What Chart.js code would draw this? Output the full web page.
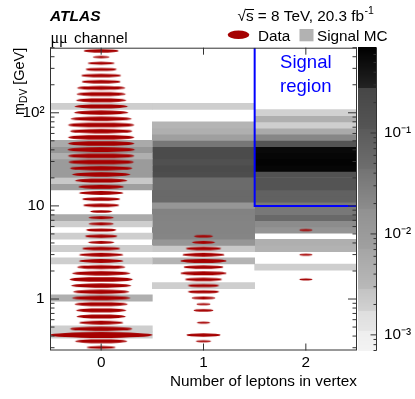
<!DOCTYPE html>
<html>
<head>
<meta charset="utf-8">
<script src="https://cdn.jsdelivr.net/npm/chart.js@4/dist/chart.umd.min.js"></script>
<style>
    html, body { margin: 0; padding: 0; background: #fff; }
</style>
</head>
<body>
<canvas id="graph" width="415" height="399"></canvas>
<script>
// number of leptons in vertex
var leptonBins   = [0, 1, 2];
var leptonLabels = ["0", "1", "2"];

// m_DV bin edges [GeV], low -> high
var massEdges = [0.2800, 0.3263, 0.3801, 0.4430, 0.5161, 0.6013, 0.7005, 0.8162, 0.9508, 1.108,
                 1.291, 1.504, 1.752, 2.041, 2.378, 2.770, 3.228, 3.761, 4.381, 5.104,
                 5.947, 6.929, 8.072, 9.405, 10.96, 12.77, 14.87, 17.33, 20.19, 23.52,
                 27.40, 31.93, 37.20, 43.34, 50.49, 58.82, 68.53, 79.84, 93.02, 108.4,
                 126.3, 147.1, 171.4, 199.7, 232.6, 271.0, 315.8, 367.9, 428.6, 500.0];

// data yield per m_DV bin (relative, sets the ellipse size)
var data0 = [29, 52, 102, 62, 44, 49, 50, 53, 58, 56, 60, 63, 58, 48, 44, 44, 38, 26, 32, 30,
             25, 25, 22, 36, 38, 44, 45, 52, 58, 62, 65, 66, 67, 66, 66, 62, 66, 61, 54, 53,
             50, 49, 48, 39, 40, 31, 27, 17, 35];
var data1 = [0, 15, 34, 0, 13, 0, 20, 14, 24, 31, 31, 37, 46, 40, 46, 42, 35, 23, 19, 0,
             0, 0, 0, 0, 0, 0, 0, 0, 0, 0, 0, 0, 0, 0, 0, 0, 0, 0, 0, 0,
             0, 0, 0, 0, 0, 0, 0, 0, 0];
var data2 = [0, 0, 0, 0, 0, 0, 0, 0, 0, 0, 0, 13, 0, 0, 0, 13, 0, 0, 0, 13,
             0, 0, 0, 0, 0, 0, 0, 0, 0, 0, 0, 0, 0, 0, 0, 0, 0, 0, 0, 0,
             0, 0, 0, 0, 0, 0, 0, 0, 0];

// signal MC fraction per m_DV bin
var mc0 = [0, 0, 0.002, 0.002, 0, 0, 0, 0, 0.0045, 0, 0, 0, 0, 0, 0.002, 0, 0.002, 0, 0.002, 0,
           0.002, 0.0057, 0, 0, 0, 0, 0.0075, 0.0024, 0.0095, 0.0095, 0.0096, 0.0045, 0.013, 0.0057, 0, 0, 0, 0, 0, 0.002,
           0, 0, 0, 0, 0, 0, 0, 0, 0];
var mc1 = [0, 0, 0, 0, 0, 0, 0, 0, 0, 0, 0.002, 0, 0, 0, 0.0036, 0, 0.0024, 0.013, 0.023, 0.024,
           0.024, 0.025, 0.0255, 0.013, 0.055, 0.055, 0.05, 0.05, 0.18, 0.2, 0.15, 0.2, 0.2, 0.04, 0.0075, 0.0045, 0.0036, 0, 0, 0.002,
           0, 0, 0, 0, 0, 0, 0, 0, 0];
var mc2 = [0, 0, 0, 0, 0, 0, 0, 0, 0, 0, 0, 0, 0, 0.002, 0, 0, 0.004, 0.0045, 0, 0.015,
           0.018, 0.055, 0.037, 0.037, 0.08, 0.08, 0.115, 0.115, 0.13, 0.6, 0.65, 0.6, 0.55, 0.115, 0.021, 0.0057, 0.002, 0.0045, 0.0018, 0,
           0, 0, 0, 0, 0, 0, 0, 0, 0];

var massTickValues = [1, 10, 100];
var massTickLabels = ["1", "10", "10\u00b2"];
var zTickValues    = [0.001, 0.01, 0.1];
var zTickLabels    = ["10\u207b\u00b3", "10\u207b\u00b2", "10\u207b\u00b9"];

var signalCut = 10;     // signal region: 2 leptons, m_DV > 10 GeV

// grey palette of the colour axis (value bands, grey at low / high end)
var zBandEdges = [0.0007, 0.00109, 0.00172, 0.00285, 0.0071, 0.0177, 0.0442, 0.110, 0.279, 0.7];
var zBandLight = [243, 230, 210, 185, 160, 140, 110, 85, 35];
var zBandDark  = [238, 222, 195, 165, 145, 115, 90, 70, 0];

var FONT       = "'Liberation Sans', Arial, Helvetica, sans-serif";
var SERIF      = "'Liberation Serif', 'DejaVu Serif', serif";
var DATA_COLOR = "#a50000";
var MC_COLOR   = "rgb(178,178,178)";
var FRAME      = "#333";
var DATA_MAX   = Math.max.apply(null, data0.concat(data1, data2));

var CHART = null;

function grayFor(v){
    let k = zBandEdges.length - 2;
    for (let j = 0; j < zBandEdges.length - 1; j++){
        if (v < zBandEdges[j + 1]) { k = j; break; }
    }
    let lo = Math.log10(zBandEdges[k]), hi = Math.log10(zBandEdges[k + 1]);
    let f  = (Math.log10(v) - lo) / (hi - lo);
    f = Math.max(0, Math.min(1, f));
    let g = Math.round(zBandLight[k] + (zBandDark[k] - zBandLight[k]) * f);
    return "rgb(" + g + "," + g + "," + g + ")";
}

function mcPoints(x, vals){
    let pts = [];
    for (let i = 0; i < vals.length; i++){
        if (vals[i] > 0) pts.push({x: x, y: [massEdges[i], massEdges[i + 1]], v: vals[i]});
    }
    return pts;
}

function dataPoints(x, vals){
    let pts = [];
    for (let i = 0; i < vals.length; i++){
        if (vals[i] > 0) pts.push({x: x, y: Math.sqrt(massEdges[i] * massEdges[i + 1]), v: vals[i], bin: i});
    }
    return pts;
}

//楕円のマーカー（横幅はビン幅に対する比率、高さは少し太めに）
var ELLIPSES = {};
function ellipseStyle(ctx){
    let p = ctx.raw;
    let xs = ctx.chart.scales.x, ys = ctx.chart.scales.y;
    if (!p || !xs || !ys) return "circle";
    let cw = xs.getPixelForValue(0.5) - xs.getPixelForValue(-0.5);
    let bh = ys.getPixelForValue(massEdges[p.bin]) - ys.getPixelForValue(massEdges[p.bin + 1]);
    let f  = p.v / DATA_MAX;
    let rx = f * cw / 2, ry = 0.95 * Math.sqrt(f) * bh / 2;
    let key = rx.toFixed(2) + "_" + ry.toFixed(2);
    if (!ELLIPSES[key]){
        let c = document.createElement("canvas");
        c.width  = Math.ceil(rx * 2) + 4;
        c.height = Math.ceil(ry * 2) + 4;
        let g = c.getContext("2d");
        g.fillStyle = DATA_COLOR;
        g.beginPath();
        g.ellipse(c.width / 2, c.height / 2, rx, ry, 0, 0, Math.PI * 2);
        g.fill();
        ELLIPSES[key] = c;
    }
    return ELLIPSES[key];
}

function minorLogTicks(decades){
    let t = [];
    decades.forEach(function(d){
        for (let m = 1; m <= 9; m++) t.push(m === 1 ? d : m * d);
    });
    return t;
}

function line(c, x1, y1, x2, y2){
    c.beginPath(); c.moveTo(x1, y1); c.lineTo(x2, y2); c.stroke();
}

var decorPlugin = {
    id: "decor",
    beforeDatasetsDraw: function(chart){
        //カラーバー
        let c = chart.ctx, ca = chart.chartArea, zs = chart.scales.z;
        c.save();
        for (let py = Math.floor(ca.top); py < ca.bottom; py++){
            let v = zs.getValueForPixel(py + 0.5);
            c.fillStyle = grayFor(v);
            c.fillRect(358, py, 18.5, 1);
        }
        c.restore();
    },
    afterDatasetsDraw: function(chart){
        let c = chart.ctx, ca = chart.chartArea;
        let xs = chart.scales.x, ys = chart.scales.y, zs = chart.scales.z;
        c.save();
        c.strokeStyle = FRAME;
        c.lineWidth = 1;
        c.strokeRect(ca.left + 0.5, ca.top + 0.5, ca.right - ca.left - 1, ca.bottom - ca.top - 1);

        ys.ticks.forEach(function(t){
            let py  = ys.getPixelForValue(t.value);
            let len = massTickValues.indexOf(t.value) >= 0 ? 9 : 4.5;
            line(c, ca.left, py, ca.left + len, py);
            line(c, ca.right, py, ca.right - len, py);
        });
        xs.ticks.forEach(function(t){
            let px = xs.getPixelForValue(t.value);
            line(c, px, ca.bottom, px, ca.bottom - 7);
            line(c, px, ca.top, px, ca.top + 7);
        });

        // colour axis
        let zx = 376.5;
        line(c, zx, ca.top, zx, ca.bottom);
        zs.ticks.forEach(function(t){
            let py  = zs.getPixelForValue(t.value);
            let len = zTickValues.indexOf(t.value) >= 0 ? 6 : 3;
            line(c, zx, py, zx - len, py);
        });
        c.restore();
    },
    afterDraw: function(chart){
        let c = chart.ctx, ca = chart.chartArea, xs = chart.scales.x;
        c.save();
        c.fillStyle = "#000";
        c.textBaseline = "alphabetic";
        c.textAlign = "left";

        c.font = "italic bold 15.5px " + FONT;
        c.fillText("ATLAS", 50, 20.7);

        c.font = "16px " + SERIF;
        c.fillText("\u03bc\u03bc", 50.5, 42.7);
        c.font = "15.3px " + FONT;
        c.fillText("channel", 74, 42.7);

        // sqrt(s) = 8 TeV, 20.3 fb-1
        let x = 237.5, base = 20.7;
        c.font = "15.3px " + FONT;
        c.fillText("\u221a", x, base);
        x += c.measureText("\u221a").width;
        let sw = c.measureText("s").width;
        c.fillText("s", x, base);
        c.strokeStyle = "#000"; c.lineWidth = 1;
        line(c, x - 0.5, 9.5, x + sw + 0.5, 9.5);
        x += sw;
        let rest = " = 8 TeV, 20.3 fb";
        c.fillText(rest, x, base);
        x += c.measureText(rest).width;
        c.font = "10.5px " + FONT;
        c.fillText("-1", x + 0.5, base - 6.5);

        // legend
        c.fillStyle = DATA_COLOR;
        c.beginPath(); c.ellipse(238.5, 34.7, 10.8, 4.3, 0, 0, Math.PI * 2); c.fill();
        c.fillStyle = MC_COLOR;
        c.fillRect(299.5, 29, 14, 12.3);
        c.fillStyle = "#000";
        c.font = "15.3px " + FONT;
        c.fillText("Data", 258, 40.7);
        c.fillText("Signal MC", 317, 40.7);

        // signal region label
        c.fillStyle = "#0000ff";
        c.font = "18.5px " + FONT;
        c.textAlign = "center";
        let sx = xs.getPixelForValue(2);
        c.fillText("Signal", sx, 68.3);
        c.fillText("region", sx, 91.7);

        // y title m_DV [GeV]
        c.textAlign = "left";
        c.fillStyle = "#000";
        c.translate(23.5, ca.top);
        c.rotate(-Math.PI / 2);
        c.font = "14.5px " + FONT;
        let wm = c.measureText("m").width, wg = c.measureText(" [GeV]").width;
        c.font = "10.2px " + FONT;
        let wd = c.measureText("DV").width;
        let lx = -(wm + wd + wg);
        c.font = "14.5px " + FONT;
        c.fillText("m", lx, 0);
        c.font = "10.2px " + FONT;
        c.fillText("DV", lx + wm, 3.5);
        c.font = "14.5px " + FONT;
        c.fillText(" [GeV]", lx + wm + wd, 0);
        c.restore();
    }
};

window.addEventListener("load", function(){
    draw_graph();
});

function draw_graph(){
    let ctx = document.getElementById("graph");
    Chart.defaults.color = "#000";

    let tickFont = {family: FONT, size: 15.3};

    let datasets = [
        {
            type: "scatter", label: "Data", order: 0,
            data: dataPoints(0, data0).concat(dataPoints(1, data1), dataPoints(2, data2)),
            pointStyle: ellipseStyle, pointRadius: 3,
            backgroundColor: DATA_COLOR, borderColor: DATA_COLOR
        },
        {
            type: "line", label: "Signal region", order: 1,
            data: [{x: 1.5, y: 500}, {x: 1.5, y: signalCut}, {x: 2.5, y: signalCut}],
            borderColor: "#0000ff", borderWidth: 2, pointRadius: 0, fill: false, tension: 0
        }
    ];
    [mc0, mc1, mc2].forEach(function(vals, k){
        datasets.push({
            type: "bar", label: "Signal MC", order: 2,
            data: mcPoints(leptonBins[k], vals),
            grouped: false, barPercentage: 1, categoryPercentage: 1, borderWidth: 0,
            backgroundColor: function(c){ return c.raw ? grayFor(c.raw.v) : MC_COLOR; }
        });
    });

    CHART = new Chart(ctx, {
        type: "bar",
        data: {datasets: datasets},
        options: {
            responsive: false,
            animation: false,
            events: [],
            layout: {padding: {top: 47.7, left: 0, right: 0, bottom: 0}},
            plugins: {legend: {display: false}, tooltip: {enabled: false}},
            scales: {
                x: {
                    type: "linear", min: -0.5, max: 2.5, offset: false,
                    afterBuildTicks: function(s){ s.ticks = leptonBins.map(function(v){ return {value: v}; }); },
                    afterFit: function(s){ s.height = 48.5; },
                    grid: {display: false, drawTicks: false, offset: false},
                    border: {display: false},
                    ticks: {
                        padding: 3, font: tickFont, autoSkip: false, maxRotation: 0,
                        callback: function(v){ return leptonLabels[leptonBins.indexOf(v)]; }
                    },
                    title: {
                        display: true, text: "Number of leptons in vertex", align: "end",
                        font: tickFont, padding: {top: 0, bottom: 8}
                    }
                },
                y: {
                    type: "logarithmic", position: "left", min: 0.28, max: 500,
                    afterBuildTicks: function(s){
                        s.ticks = minorLogTicks([0.1, 1, 10, 100])
                            .filter(function(v){ return v >= 0.28 && v <= 500; })
                            .map(function(v){ return {value: v}; });
                    },
                    afterFit: function(s){ s.width = 50; },
                    grid: {display: false, drawTicks: false},
                    border: {display: false},
                    ticks: {
                        padding: 5.5, font: tickFont, autoSkip: false,
                        callback: function(v){
                            let j = massTickValues.indexOf(v);
                            return j >= 0 ? massTickLabels[j] : "";
                        }
                    }
                },
                z: {
                    type: "logarithmic", position: "right", min: 0.0007, max: 0.7,
                    afterBuildTicks: function(s){
                        s.ticks = minorLogTicks([0.0001, 0.001, 0.01, 0.1])
                            .filter(function(v){ return v >= 0.0007 && v <= 0.7; })
                            .map(function(v){ return {value: v}; });
                    },
                    afterFit: function(s){ s.width = 58; },
                    grid: {display: false, drawTicks: false},
                    border: {display: false},
                    ticks: {
                        padding: 27, font: tickFont, autoSkip: false,
                        callback: function(v){
                            let j = zTickValues.indexOf(v);
                            return j >= 0 ? zTickLabels[j] : "";
                        }
                    }
                }
            }
        },
        plugins: [decorPlugin]
    });
}
</script>
</body>
</html>
